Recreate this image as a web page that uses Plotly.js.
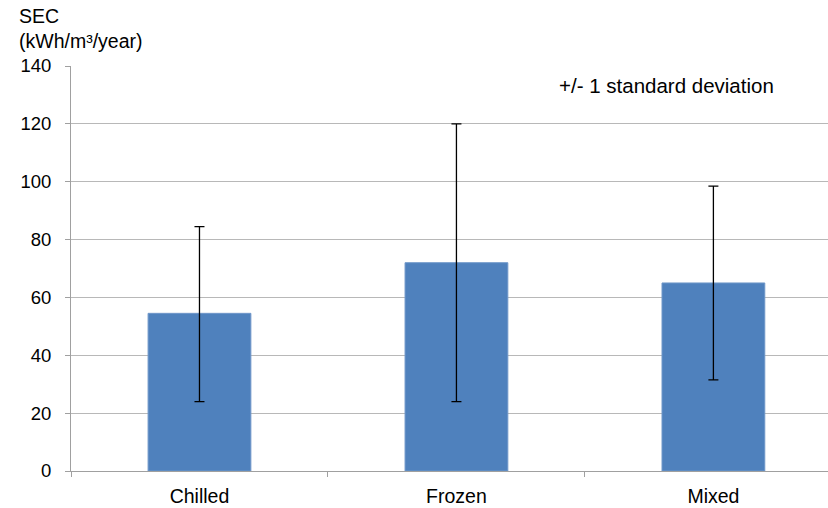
<!DOCTYPE html>
<html>
<head>
<meta charset="utf-8">
<script src="https://cdn.plot.ly/plotly-3.0.1.min.js"></script>
<style>html,body{margin:0;padding:0;background:#fff;}#chart{width:828px;height:508px;}</style>
</head>
<body>
<div id="chart"></div>
<script>
const categories = ["Chilled", "Frozen", "Mixed"];
const secMean = [54.5, 72, 65];
const sdPlus = [30, 48, 33.5];
const sdMinus = [30.5, 48, 33.5];
const yTicks = [0, 20, 40, 60, 80, 100, 120, 140];

const trace = {
  type: "bar",
  x: categories,
  y: secMean,
  width: 0.4,
  marker: {color: "#4f81bd", line: {color: "#6f97c9", width: 1}},
  error_y: {
    type: "data",
    symmetric: false,
    array: sdPlus,
    arrayminus: sdMinus,
    color: "#000000",
    thickness: 1.3,
    width: 5
  },
  hoverinfo: "none"
};

const plotH = 508 - 66 - 37, plotW = 828 - 71;
const px = v => (v - 71) / plotW;
const py = v => (508 - 37 - v) / plotH;

const layout = {
  width: 828,
  height: 508,
  margin: {l: 71, r: 0, t: 66, b: 37},
  paper_bgcolor: "#ffffff",
  plot_bgcolor: "#ffffff",
  showlegend: false,
  font: {family: "Liberation Sans, Arial, sans-serif", size: 16, color: "#000000"},
  xaxis: {
    type: "category",
    range: [-0.5, 2.446],
    tickson: "boundaries",
    ticks: "outside",
    ticklen: 5,
    tickcolor: "#a0a0a0",
    showgrid: false,
    showline: true,
    linecolor: "#a0a0a0",
    linewidth: 1,
    tickfont: {size: 19.5},
    ticklabelstandoff: 8,
    fixedrange: true
  },
  yaxis: {
    range: [0, 140],
    tickvals: yTicks,
    ticks: "outside",
    ticklen: 5,
    tickcolor: "#a0a0a0",
    showline: true,
    linecolor: "#a0a0a0",
    linewidth: 1,
    showgrid: true,
    gridcolor: "#b8b8b8",
    gridwidth: 1,
    zeroline: false,
    tickfont: {size: 18.5},
    ticklabelstandoff: 10,
    fixedrange: true
  },
  annotations: [
    {text: "SEC", xref: "paper", yref: "paper", x: px(17), y: py(16.5), xanchor: "left", yanchor: "middle",
     showarrow: false, font: {size: 19.5}},
    {text: "(kWh/m³/year)", xref: "paper", yref: "paper", x: px(17), y: py(40.5), xanchor: "left", yanchor: "middle",
     showarrow: false, font: {size: 19.5}},
    {text: "+/- 1 standard deviation", xref: "paper", yref: "paper", x: px(557), y: py(85), xanchor: "left", yanchor: "middle",
     showarrow: false, font: {size: 20.5}}
  ]
};

Plotly.newPlot("chart", [trace], layout, {displayModeBar: false, staticPlot: true});
</script>
</body>
</html>
